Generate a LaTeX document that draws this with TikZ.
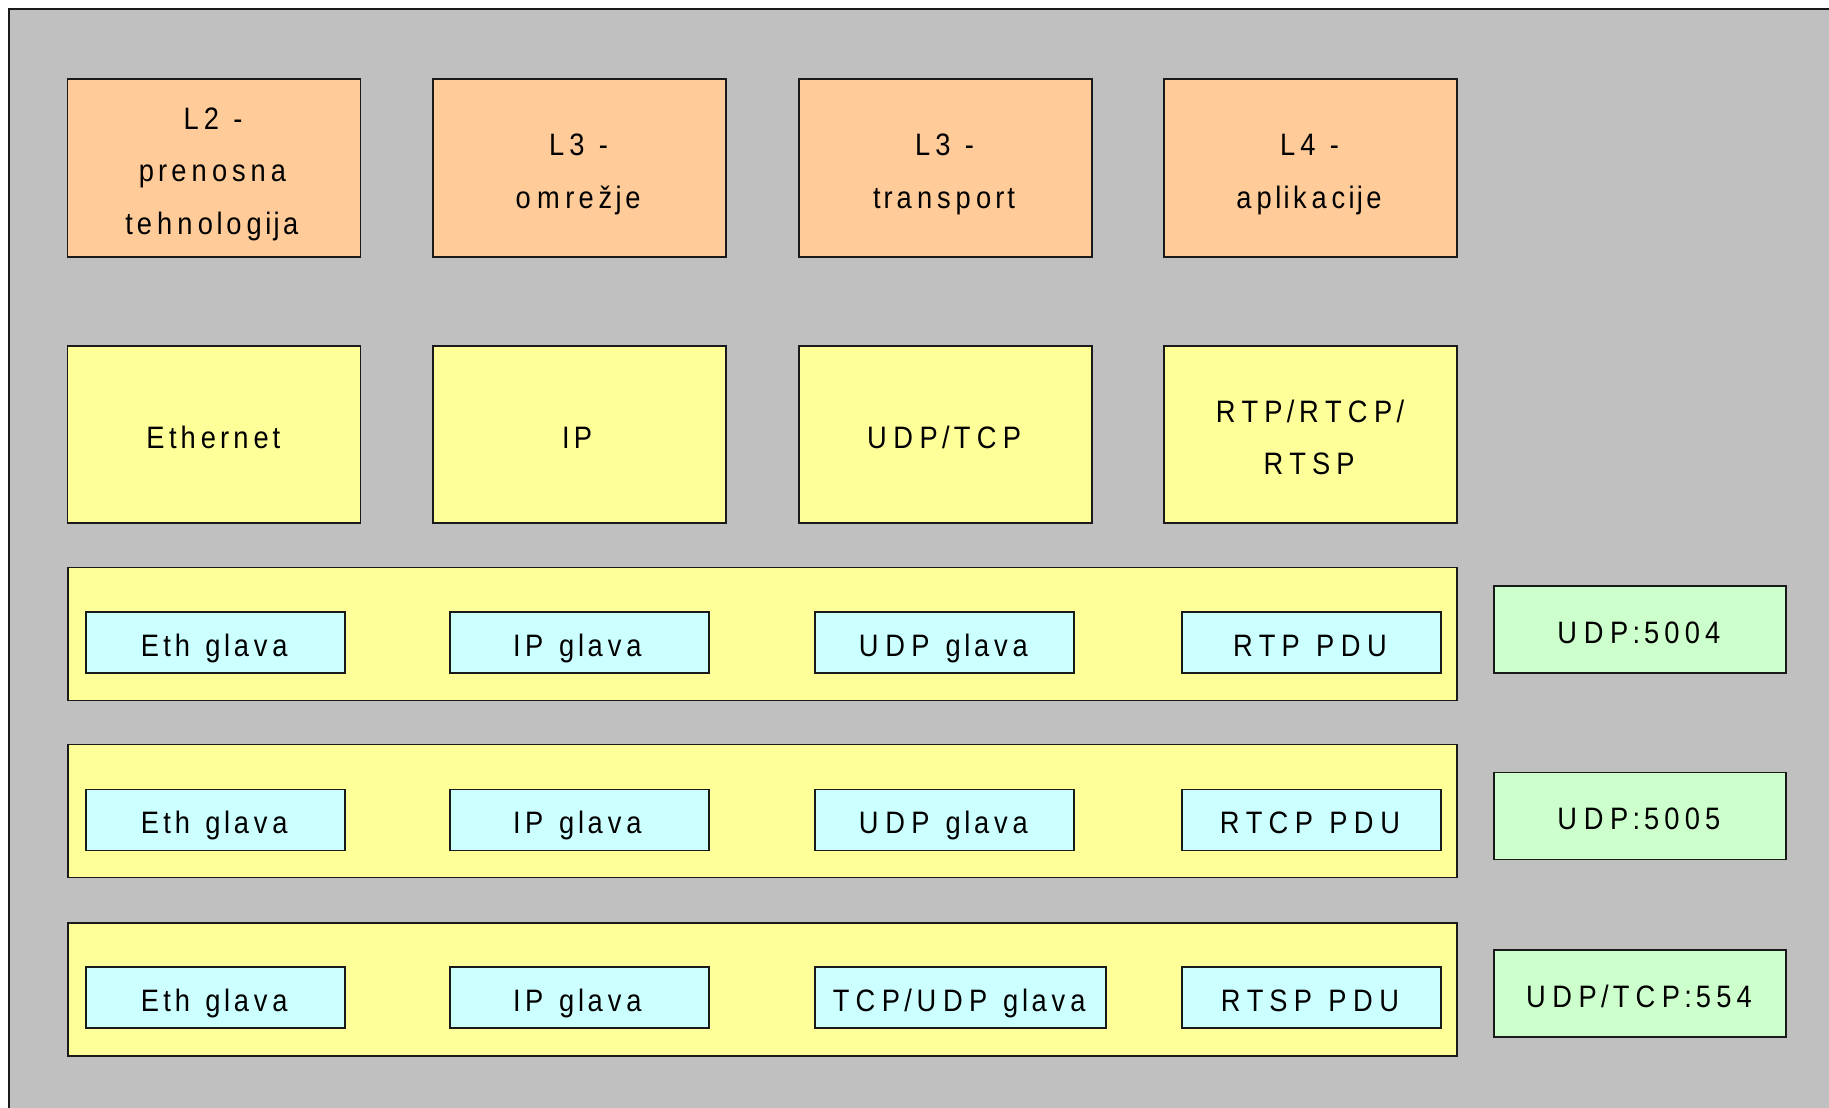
\documentclass[tikz,border=0pt]{standalone}
\usepackage{fontspec}
% glyphs are drawn narrow, each centred in a wider advance
\newfontfamily\glyphfont[FakeStretch=0.88]{Liberation Sans}
\newfontfamily\advfont[FakeStretch=1.18]{Liberation Sans}
\makeatletter
\newcommand\spaced[1]{\@tfor\sp@ch:=#1\do{\sp@one\sp@ch}}
\newcommand\sp@one[1]{\setbox\z@\hbox{\advfont#1}\hbox to\wd\z@{\hss\glyphfont#1\hss}}
\makeatother
% one text line: cap-height box, ink set slightly low
\newcommand\tline[1]{\raisebox{-2.5pt}[22.5pt][0pt]{\spaced{#1}\kern3pt}}
\definecolor{bggray}{HTML}{C0C0C0}
\definecolor{layerorange}{HTML}{FFCC99}
\definecolor{protoyellow}{HTML}{FFFF99}
\definecolor{hdrcyan}{HTML}{CCFFFF}
\definecolor{portgreen}{HTML}{CCFFCC}
\definecolor{edge}{HTML}{1A1A1A}
\tikzset{
  box/.style={draw=edge, line width=1.3pt, inner sep=0pt, align=center,
    font={\glyphfont\fontsize{31}{52.5}\selectfont}},
  layer/.style={box, fill=layerorange, minimum width=293, minimum height=178},
  proto/.style={box, fill=protoyellow, minimum width=293, minimum height=177},
  packet/.style={box, fill=protoyellow, minimum width=1389, minimum height=133},
  hdr/.style={box, fill=hdrcyan, minimum width=259, minimum height=61},
  port/.style={box, fill=portgreen, minimum width=292, minimum height=87},
}
\begin{document}
\begin{tikzpicture}[x=1pt,y=-1pt]
\useasboundingbox (0,0) rectangle (1829,1108);
% background panel with its top and left edges
\fill[bggray] (9,9) rectangle (1829,1108);
\draw[edge, line width=1.3pt] (1829,9) -- (9,9) -- (9,1108);

% layer titles
\node[layer] (l2) at (214,168)    {\tline{L2~-}\\\tline{prenosna}\\\tline{tehnologija}};
\node[layer] (l3n) at (579.5,168) {\tline{L3~-}\\\tline{omrežje}};
\node[layer] (l3t) at (945.5,168) {\tline{L3~-}\\\tline{transport}};
\node[layer] (l4) at (1310.5,168) {\tline{L4~-}\\\tline{aplikacije}};

% protocols per layer
\node[proto] (eth) at (214,434.5)    {\tline{Ethernet}};
\node[proto] (ip) at (579.5,434.5)   {\tline{IP}};
\node[proto] (tr) at (945.5,434.5)   {\tline{UDP/TCP}};
\node[proto] (app) at (1310.5,434.5) {\tline{RTP/RTCP/}\\\tline{RTSP}};

% RTP packet
\node[packet] (p1) at (762.5,634) {};
\node[hdr] (p1a) at (215.5,642.5) {\tline{Eth~glava}};
\node[hdr] (p1b) at (579.5,642.5) {\tline{IP~glava}};
\node[hdr] (p1c) at (944.5,642.5) {\tline{UDP~glava}};
\node[hdr] (p1d) at (1311.5,642.5) {\tline{RTP~PDU}};
\node[port] (port1) at (1640,629.5) {\tline{UDP:5004}};

% RTCP packet
\node[packet] (p2) at (762.5,811) {};
\node[hdr] (p2a) at (215.5,820) {\tline{Eth~glava}};
\node[hdr] (p2b) at (579.5,820) {\tline{IP~glava}};
\node[hdr] (p2c) at (944.5,820) {\tline{UDP~glava}};
\node[hdr] (p2d) at (1311.5,820) {\tline{RTCP~PDU}};
\node[port] (port2) at (1640,816) {\tline{UDP:5005}};

% RTSP packet
\node[packet] (p3) at (762.5,989.5) {};
\node[hdr] (p3a) at (215.5,997.5) {\tline{Eth~glava}};
\node[hdr] (p3b) at (579.5,997.5) {\tline{IP~glava}};
\node[hdr, minimum width=291] (p3c) at (960.5,997.5) {\tline{TCP/UDP~glava}};
\node[hdr] (p3d) at (1311.5,997.5) {\tline{RTSP~PDU}};
\node[port] (port3) at (1640,993.5) {\tline{UDP/TCP:554}};
\end{tikzpicture}
\end{document}
